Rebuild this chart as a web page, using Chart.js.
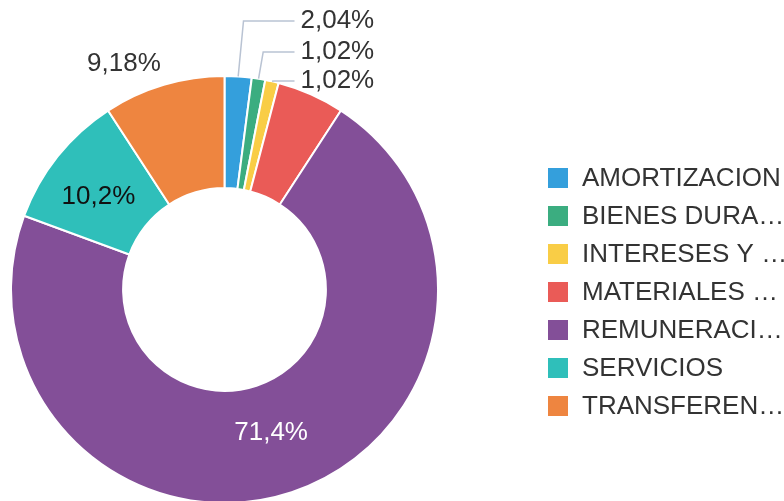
<!DOCTYPE html>
<html>
<head>
<meta charset="utf-8">
<script src="https://cdn.jsdelivr.net/npm/chart.js@4.4.1/dist/chart.umd.min.js"></script>
<style>
  html, body { margin: 0; padding: 0; background: #ffffff; overflow: hidden; }
  #wrap { position: relative; width: 784px; height: 504px; }
</style>
</head>
<body>
<div id="wrap"><canvas id="c" width="784" height="504"></canvas></div>
<script>
// ---- data ----
const categories = ["AMORTIZACION", "BIENES DURA…", "INTERESES Y …", "MATERIALES …", "REMUNERACI…", "SERVICIOS", "TRANSFEREN…"];
const values = [2, 1, 1, 5, 70, 10, 9];
const sliceLabels = ["2,04%", "1,02%", "1,02%", "", "71,4%", "10,2%", "9,18%"];
const colors = ["#349FDC", "#3BAD80", "#F9CD46", "#EA5B57", "#834F98", "#2FBFBA", "#EE8540"];

// label styles: leader (with line), inside, outside, none
const labelMode = ["leader", "leader", "leader", "none", "inside", "inside", "outside"];
const labelColor = ["#333333", "#333333", "#333333", "#333333", "#ffffff", "#111111", "#333333"];
const leaderTextDy = [-55, -24, 5];   // text y relative to top of ring
const FONT = "26px 'Liberation Sans', Arial, sans-serif";

const labelPlugin = {
  id: 'sliceLabels',
  afterDatasetsDraw(chart) {
    const ctx = chart.ctx;
    const meta = chart.getDatasetMeta(0);
    ctx.save();
    ctx.font = FONT;
    ctx.textBaseline = 'middle';
    meta.data.forEach((arc, i) => {
      const mode = labelMode[i];
      const txt = sliceLabels[i];
      if (mode === 'none' || !txt) return;
      const p = arc.getProps(['x', 'y', 'startAngle', 'endAngle', 'innerRadius', 'outerRadius'], true);
      const mid = (p.startAngle + p.endAngle) / 2;
      ctx.fillStyle = labelColor[i];
      if (mode === 'inside') {
        const r = (p.innerRadius + p.outerRadius) / 2;
        ctx.textAlign = 'center';
        ctx.fillText(txt, p.x + Math.cos(mid) * r - 3, p.y + Math.sin(mid) * r - 6 + (i === 5 ? 12 : 0));
      } else if (mode === 'outside') {
        const a = mid - 0.13;
        const r = p.outerRadius + 34;
        ctx.textAlign = 'center';
        ctx.fillText(txt, p.x + Math.cos(a) * r, p.y + Math.sin(a) * r);
      } else if (mode === 'leader') {
        const ex = p.x + Math.cos(mid) * p.outerRadius;
        const ey = p.y + Math.sin(mid) * p.outerRadius;
        const ty = p.y - p.outerRadius + leaderTextDy[i];
        const tx = p.x + 76;
        ctx.strokeStyle = '#B9C3D3';
        ctx.lineWidth = 1.5;
        ctx.beginPath();
        ctx.moveTo(ex, ey);
        ctx.lineTo(ex + (ey - ty) * 0.06 + (i === 1 ? 3 : 2), ty);
        ctx.lineTo(tx - 6, ty);
        ctx.stroke();
        ctx.textAlign = 'left';
        ctx.fillText(txt, tx, ty);
      }
    });
    // legend
    ctx.textAlign = 'left';
    ctx.textBaseline = 'middle';
    categories.forEach((c, i) => {
      const y = 168 + i * 38;
      ctx.fillStyle = colors[i];
      ctx.fillRect(548, y, 20, 20);
      ctx.fillStyle = '#333333';
      ctx.fillText(c, 582, y + 11);
    });
    ctx.restore();
  }
};

new Chart(document.getElementById('c'), {
  type: 'doughnut',
  data: {
    labels: categories,
    datasets: [{
      data: values,
      backgroundColor: colors,
      borderColor: '#ffffff',
      borderWidth: 2,
      hoverBorderWidth: 0,
      hoverOffset: 0
    }]
  },
  options: {
    responsive: false,
    animation: false,
    cutout: '47.5%',
    layout: { padding: { top: 75, left: 10, right: 345, bottom: 0 } },
    plugins: {
      legend: { display: false },
      tooltip: { enabled: false }
    }
  },
  plugins: [labelPlugin]
});
</script>
</body>
</html>
